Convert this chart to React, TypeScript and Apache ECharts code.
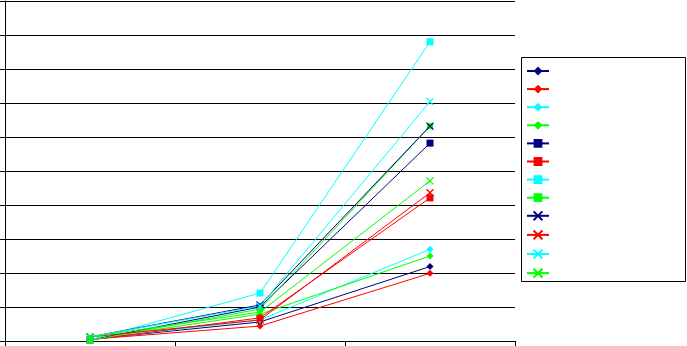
import React, { useEffect, useRef } from "react";
import * as echarts from "echarts";

const categories = ["1", "2", "3"];

const navyDiamond = [0.05, 0.56, 2.19];
const redDiamond = [0.05, 0.44, 1.99];
const cyanDiamond = [0.05, 0.62, 2.7];
const greenDiamond = [0.05, 0.79, 2.5];
const navySquare = [0.03, 1.0, 5.82];
const redSquare = [0.03, 0.68, 4.21];
const cyanSquare = [0.03, 1.41, 8.8];
const greenSquare = [0.02, 0.94, 6.32];
const navyCross = [0.12, 1.06, 6.32];
const redCross = [0.12, 0.62, 4.36];
const cyanCross = [0.12, 1.03, 7.04];
const greenCross = [0.12, 0.85, 4.71];

const NAVY = "#000080";
const RED = "#FF0000";
const CYAN = "#00FFFF";
const GREEN = "#00FF00";
const CROSS = "path://M0,0L10,10M10,0L0,10";

const seriesDefs = [
  { name: "s1", data: navyDiamond, color: NAVY, symbol: "diamond", size: 7 },
  { name: "s2", data: redDiamond, color: RED, symbol: "diamond", size: 7 },
  { name: "s3", data: cyanDiamond, color: CYAN, symbol: "diamond", size: 7 },
  { name: "s4", data: greenDiamond, color: GREEN, symbol: "diamond", size: 7 },
  { name: "s5", data: navySquare, color: NAVY, symbol: "rect", size: 7 },
  { name: "s6", data: redSquare, color: RED, symbol: "rect", size: 7 },
  { name: "s7", data: cyanSquare, color: CYAN, symbol: "rect", size: 7 },
  { name: "s8", data: greenSquare, color: GREEN, symbol: "rect", size: 6 },
  { name: "s9", data: navyCross, color: NAVY, symbol: CROSS, size: 7 },
  { name: "s10", data: redCross, color: RED, symbol: CROSS, size: 7 },
  { name: "s11", data: cyanCross, color: CYAN, symbol: CROSS, size: 7 },
  { name: "s12", data: greenCross, color: GREEN, symbol: CROSS, size: 7 },
];

export default function App() {
  const ref = useRef<HTMLDivElement>(null);
  useEffect(() => {
    if (!ref.current) return;
    const chart = echarts.init(ref.current, null, { renderer: "svg" });
    chart.setOption({
      animation: false,
      backgroundColor: "#ffffff",
      grid: { left: 5, right: 172, top: 1, bottom: 5, containLabel: false },
      xAxis: {
        type: "category",
        data: categories,
        boundaryGap: true,
        axisLine: { show: true, lineStyle: { color: "#000", width: 1 } },
        axisTick: { show: true, length: 5, inside: false, alignWithLabel: false, lineStyle: { color: "#000" } },
        axisLabel: { show: false },
        splitLine: { show: false },
      },
      yAxis: {
        type: "value",
        min: 0,
        max: 10,
        interval: 1,
        axisLine: { show: true, lineStyle: { color: "#000", width: 1 } },
        axisTick: { show: true, length: 5, inside: false, lineStyle: { color: "#000" } },
        axisLabel: { show: false },
        splitLine: { show: true, lineStyle: { color: "#000", width: 1 } },
      },
      legend: {
        orient: "vertical",
        left: 522,
        top: 57,
        padding: [8.5, 0, 0, 4],
        itemWidth: 22,
        itemHeight: 11,
        itemGap: 8.2,
        formatter: () => "",
        data: seriesDefs.map((s) => s.name),
      },
      graphic: [
        {
          type: "rect",
          shape: { x: 521.5, y: 57.5, width: 164, height: 224 },
          style: { fill: "none", stroke: "#000", lineWidth: 1 },
          silent: true,
        },
      ],
      series: seriesDefs.map((s) => ({
        name: s.name,
        type: "line",
        data: s.data,
        symbol: s.symbol,
        symbolSize: s.size,
        showSymbol: true,
        lineStyle: { color: s.color, width: 1 },
        itemStyle: {
          color: s.color,
          borderColor: s.color,
          borderWidth: s.symbol === CROSS ? 1.3 : 0,
        },
        emphasis: { disabled: true },
      })),
    });
    return () => chart.dispose();
  }, []);
  return <div ref={ref} style={{ width: 687, height: 346, position: "absolute", left: 0, top: 0 }} />;
}
